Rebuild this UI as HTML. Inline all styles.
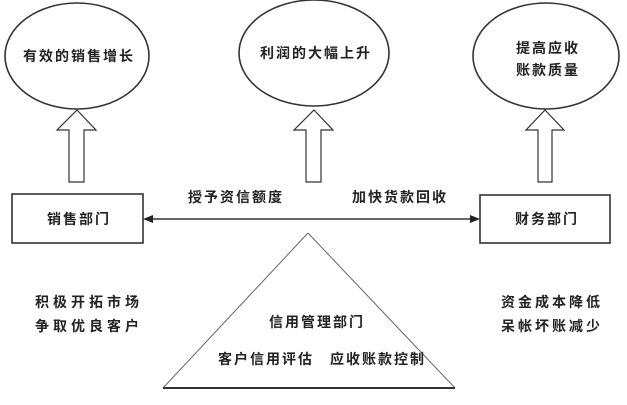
<!DOCTYPE html>
<html><head><meta charset="utf-8"><style>
body{margin:0;background:#fff}
svg text{font-family:"Liberation Sans","Noto Sans CJK SC",sans-serif;font-weight:bold;fill:#222;letter-spacing:2px}
</style></head><body>
<svg width="627" height="400" viewBox="0 0 627 400" xmlns="http://www.w3.org/2000/svg">
<g fill="none" stroke="#333" stroke-width="1.6">
<ellipse cx="77" cy="56" rx="72" ry="53"/>
<ellipse cx="314" cy="53" rx="75" ry="53"/>
<ellipse cx="546" cy="56" rx="73" ry="53"/>
<path d="M77,110 L96,130 L84,130 L84,182 L69,182 L69,130 L57,130 Z" stroke-width="1.2"/>
<path d="M314,110 L333,130 L321,130 L321,182 L306,182 L306,130 L294,130 Z" stroke-width="1.2"/>
<path d="M545,110 L564,130 L552,130 L552,182 L538,182 L538,130 L526,130 Z" stroke-width="1.2"/>
<rect x="12" y="194" width="131" height="49"/>
<rect x="480" y="195" width="130" height="48"/>
<line x1="150" y1="219" x2="472" y2="219"/>
<path d="M308,233 L455,388 M308,233 L163,388" stroke-width="1" stroke="#666"/>
<line x1="163" y1="388" x2="455" y2="388" stroke-width="2"/>
</g>
<path d="M143,219 L153,215 L153,223 Z M480,219 L470,215 L470,223 Z" fill="#222"/>
<g font-size="14">
<text x="79" y="61" text-anchor="middle">有效的销售增长</text>
<text x="316" y="58" text-anchor="middle">利润的大幅上升</text>
<text x="548" y="53" text-anchor="middle">提高应收</text>
<text x="548" y="75" text-anchor="middle">账款质量</text>
<text x="79" y="224" text-anchor="middle">销售部门</text>
<text x="547" y="224" text-anchor="middle">财务部门</text>
<text x="236" y="202" text-anchor="middle">授予资信额度</text>
<text x="400" y="202" text-anchor="middle">加快货款回收</text>
<text x="317" y="327" text-anchor="middle">信用管理部门</text>
<text x="322" y="364" text-anchor="middle">客户信用评估　应收账款控制</text>
<text x="89" y="307" text-anchor="middle" style="letter-spacing:4px">积极开拓市场</text>
<text x="89" y="331" text-anchor="middle" style="letter-spacing:4px">争取优良客户</text>
<text x="552" y="307" text-anchor="middle" style="letter-spacing:3px">资金成本降低</text>
<text x="552" y="331" text-anchor="middle" style="letter-spacing:3px">呆帐坏账减少</text>
</g>
</svg>
</body></html>
